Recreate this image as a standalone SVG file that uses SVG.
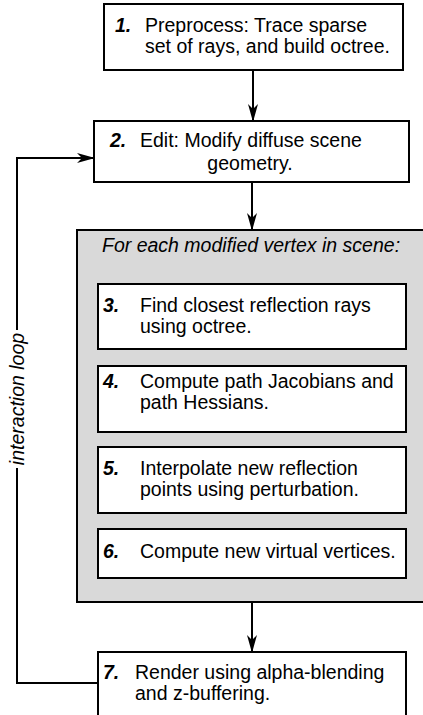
<svg xmlns="http://www.w3.org/2000/svg" width="423" height="715" viewBox="0 0 423 715">
<style>
  text { font-family: "Liberation Sans", Arial, sans-serif; font-size: 19.5px; fill: #000; }
  .num { font-weight: bold; font-style: italic; }
  .it { font-style: italic; }
  .box { fill: #fff; stroke: #000; stroke-width: 2; }
  .grp { fill: #d9d9d9; stroke: #000; stroke-width: 2; }
  .conn { fill: none; stroke: #000; stroke-width: 2; }
</style>
<defs>
  <marker id="arr" viewBox="0 0 18 10" refX="17" refY="5" markerWidth="18" markerHeight="10" markerUnits="userSpaceOnUse" orient="auto">
    <path d="M0,0 L18,5 L0,10 L5,5 Z" fill="#000"/>
  </marker>
</defs>

<g id="group-loop">
  <rect class="grp" x="77" y="230" width="360" height="372"/>
  <text class="it" x="102" y="252">For each modified vertex in scene:</text>
</g>

<g id="node1">
  <rect class="box" x="104" y="4" width="299" height="66"/>
  <text class="num" x="115" y="32">1.</text>
  <text x="145" y="32">Preprocess: Trace sparse</text>
  <text x="145" y="53">set of rays, and build octree.</text>
</g>

<g id="node2">
  <rect class="box" x="94" y="121" width="315" height="61"/>
  <text class="num" x="110" y="147">2.</text>
  <text x="140" y="147">Edit: Modify diffuse scene</text>
  <text x="250" y="170" text-anchor="middle">geometry.</text>
</g>

<g id="node3">
  <rect class="box" x="98" y="284" width="308" height="65"/>
  <text class="num" x="103" y="312">3.</text>
  <text x="140" y="312">Find closest reflection rays</text>
  <text x="140" y="333">using octree.</text>
</g>

<g id="node4">
  <rect class="box" x="98" y="366" width="308" height="66"/>
  <text class="num" x="103" y="388">4.</text>
  <text x="140" y="388">Compute path Jacobians and</text>
  <text x="140" y="409">path Hessians.</text>
</g>

<g id="node5">
  <rect class="box" x="98" y="447" width="308" height="66"/>
  <text class="num" x="103" y="475">5.</text>
  <text x="140" y="475">Interpolate new reflection</text>
  <text x="140" y="496">points using perturbation.</text>
</g>

<g id="node6">
  <rect class="box" x="98" y="529" width="308" height="49"/>
  <text class="num" x="103" y="558">6.</text>
  <text x="140" y="558">Compute new virtual vertices.</text>
</g>

<g id="node7">
  <rect class="box" x="98" y="652" width="308" height="80"/>
  <text class="num" x="103" y="679">7.</text>
  <text x="135" y="679">Render using alpha-blending</text>
  <text x="135" y="700">and z-buffering.</text>
</g>

<g id="connectors">
  <line class="conn" x1="253" y1="70" x2="253" y2="121" marker-end="url(#arr)"/>
  <line class="conn" x1="252" y1="182" x2="252" y2="230" marker-end="url(#arr)"/>
  <line class="conn" x1="252" y1="602" x2="252" y2="652" marker-end="url(#arr)"/>
  <path class="conn" d="M98,683 H17 V468"/>
  <path class="conn" d="M17,330 V158 H94" marker-end="url(#arr)"/>
  <text class="it" transform="translate(24,399) rotate(-90)" text-anchor="middle">interaction loop</text>
</g>
</svg>
